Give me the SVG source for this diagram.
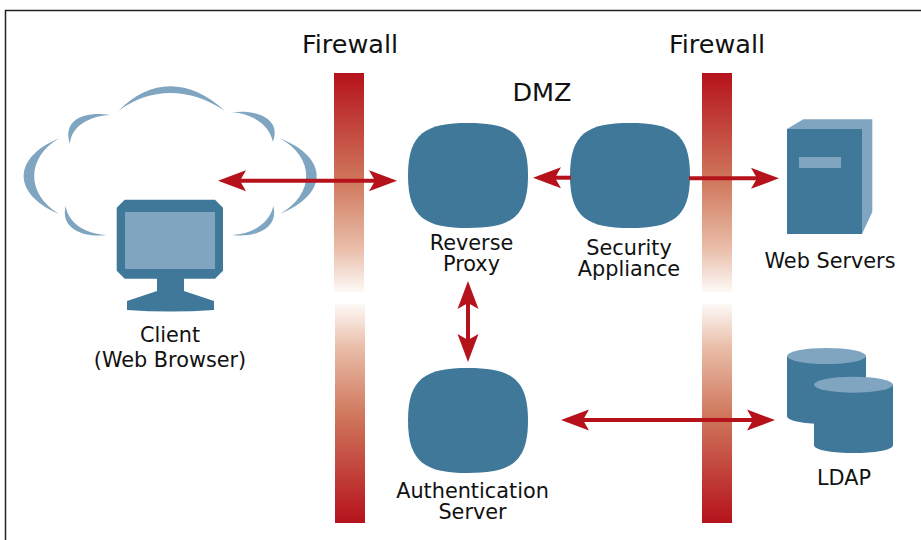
<svg xmlns="http://www.w3.org/2000/svg" width="921" height="540" viewBox="0 0 921 540">
<style>
text{font-family:"DejaVu Sans",Verdana,sans-serif;fill:#111;text-anchor:middle;font-size:20.8px}
.t{font-size:25.500px}
.d{fill:#40789a}
.l{fill:#80a5c0}
.a{stroke:#b5121b;stroke-width:4;fill:none}
.h{fill:#b5121b}
</style>
<defs>
<linearGradient id="fd" x1="0" y1="0" x2="0" y2="1"><stop offset="0" stop-color="#b5121b"/><stop offset="0.5" stop-color="#d0795e"/><stop offset="0.8" stop-color="#e9bda8"/><stop offset="1" stop-color="#fdf9f6"/></linearGradient>
<linearGradient id="fu" x1="0" y1="1" x2="0" y2="0"><stop offset="0" stop-color="#b5121b"/><stop offset="0.5" stop-color="#d0795e"/><stop offset="0.8" stop-color="#e9bda8"/><stop offset="1" stop-color="#fdf9f6"/></linearGradient>
<path id="n" d="M60 0C102 0 120 10 120 52.500C120 95 102 105 60 105C18 105 0 95 0 52.500C0 10 18 0 60 0Z"/>
<polygon id="hd" points="0,0 28,-10.500 22,0 28,10.500"/>
</defs>
<rect width="921" height="540" fill="#fff"/>
<path d="M5.500 540V10.500H921" fill="none" stroke="#222" stroke-width="1.500"/>
<g id="firewall-left">
<rect x="334" y="73" width="30" height="219" fill="url(#fd)"/>
<rect x="335" y="304" width="30" height="219" fill="url(#fu)"/>
<text class="t" x="350" y="53">Firewall</text>
</g>
<g id="firewall-right">
<rect x="702" y="73" width="30" height="219" fill="url(#fd)"/>
<rect x="702" y="304" width="30" height="219" fill="url(#fu)"/>
<text class="t" x="717" y="53">Firewall</text>
</g>
<text id="dmz" class="t" x="542" y="101">DMZ</text>
<g id="client">
<g class="l">
<path d="M118.300 111C150 78 190 78 225 111C190 87 150 87 118.300 111Z"/>
<path d="M110.700 115C84 111 62 120 70 144C71 127 88 116 110.700 115Z"/>
<path d="M59 138.300C12 158 12 194 59 214C26 194 26 158 59 138.300Z"/>
<path d="M65.700 206C60 228 82 238 106.700 235C84 234 68 222 65.700 206Z"/>
<path d="M232.300 112.300C258 109 282 120 272.700 141.700C270 126 254 114 232.300 112.300Z"/>
<path d="M280 138.300C329 158 329 194 280 214C315 194 315 158 280 138.300Z"/>
<path d="M273.300 206C279 228 256 238 232.300 235C254 234 270 222 273.300 206Z"/>
</g>
<path class="d" d="M124.700 199.700H215L223 207.700V270.700L215 278.700H184V291L214 301V310Q170 313 127 310V301L157 291V278.700H124.700L116.700 270.700V207.700Z"/>
<rect class="l" x="125" y="212" width="90" height="57"/>
<text x="170" y="342">Client</text>
<text x="170" y="367">(Web Browser)</text>
</g>
<g id="reverse-proxy">
<use href="#n" class="d" x="408" y="123"/>
<text x="471.500" y="250">Reverse</text>
<text x="471.500" y="271">Proxy</text>
</g>
<g id="security-appliance">
<use href="#n" class="d" x="570" y="123"/>
<text x="629" y="255">Security</text>
<text x="629" y="276">Appliance</text>
</g>
<g id="authentication-server">
<use href="#n" class="d" x="408" y="368"/>
<text x="472.500" y="498">Authentication</text>
<text x="472.500" y="519">Server</text>
</g>
<g id="web-servers">
<polygon class="l" points="787,129 803.300,119.300 872.300,119.300 872.300,212 862,234"/>
<rect class="d" x="787" y="129" width="75" height="105"/>
<rect class="l" x="799" y="157" width="42" height="11"/>
<text x="830" y="268">Web Servers</text>
</g>
<g id="ldap">
<path class="d" d="M787 356V416C787 426.700 866 426.700 866 416V356Z"/>
<ellipse class="l" cx="826.500" cy="356" rx="39.500" ry="8"/>
<path class="d" d="M814 384.700V445C814 455.700 893 455.700 893 445V384.700Z"/>
<ellipse class="l" cx="853.500" cy="384.700" rx="39.500" ry="8"/>
<text x="844" y="485">LDAP</text>
</g>
<g id="connectors">
<line class="a" x1="235" y1="180.700" x2="380" y2="180.700"/>
<use href="#hd" class="h" transform="translate(218 180.700)"/>
<use href="#hd" class="h" transform="translate(397 180.700) rotate(180)"/>
<line class="a" x1="550" y1="177.700" x2="571" y2="177.700"/>
<use href="#hd" class="h" transform="translate(533 177.700)"/>
<line class="a" x1="689" y1="178.300" x2="762" y2="178.300"/>
<use href="#hd" class="h" transform="translate(779 178.300) rotate(180)"/>
<line class="a" x1="468" y1="298" x2="468" y2="345"/>
<use href="#hd" class="h" transform="translate(468 281) rotate(90)"/>
<use href="#hd" class="h" transform="translate(468 362) rotate(-90)"/>
<line class="a" x1="578" y1="420" x2="758" y2="420"/>
<use href="#hd" class="h" transform="translate(561 420)"/>
<use href="#hd" class="h" transform="translate(775 420) rotate(180)"/>
</g>
</svg>
